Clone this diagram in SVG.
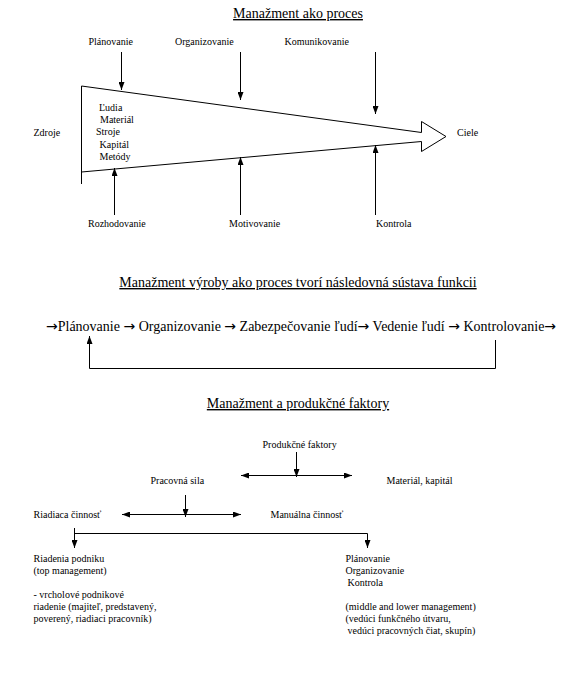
<svg xmlns="http://www.w3.org/2000/svg" width="569" height="695" viewBox="0 0 569 695" font-family="'Liberation Serif', 'DejaVu Serif', serif">
<style>
text{font-family:'Liberation Serif','DejaVu Serif',serif;fill:#000}
.s{font-size:10px}
.t{font-size:14px}
.u{text-decoration:underline}
.a{font-family:'DejaVu Sans',sans-serif}
.ln{stroke:#000;stroke-width:1;fill:none}
.ar{stroke:#000;stroke-width:1;fill:none;marker-end:url(#ah)}
.da{stroke:#000;stroke-width:1;fill:none;marker-start:url(#ah);marker-end:url(#ah)}
</style>
<defs>
<marker id="ah" viewBox="0 0 8 6" refX="8" refY="3" markerWidth="8" markerHeight="6" markerUnits="userSpaceOnUse" orient="auto-start-reverse">
<path d="M0,0 L8,3 L0,6 Z" fill="#000"/>
</marker>
</defs>
<rect width="569" height="695" fill="#fff"/>

<g id="titles">
<text class="t u" x="298" y="18" text-anchor="middle">Manažment ako proces</text>
<text class="t u" x="298" y="287" text-anchor="middle">Manažment výroby ako proces tvorí následovná sústava funkcii</text>
<text class="t u" x="298" y="408" text-anchor="middle">Manažment a produkčné faktory</text>
</g>

<g id="process-wedge">
<path class="ln" d="M81.5,86 L421.5,132.5 M81.5,172 L421.5,141.5 M81.5,86 L81.5,184"/>
<path class="ln" d="M421.5,132.5 L421.5,121.5 L446,136.5 L421.5,151.5 L421.5,141.5"/>
<text class="s" x="99" y="110.7">Ľudia</text>
<text class="s" x="100" y="123">Materiál</text>
<text class="s" x="96" y="135.3">Stroje</text>
<text class="s" x="99.5" y="147.6">Kapitál</text>
<text class="s" x="99.5" y="159.9">Metódy</text>
</g>
<g id="zdroje"><text class="s" x="33.5" y="136">Zdroje</text></g>
<g id="ciele"><text class="s" x="457" y="136">Ciele</text></g>
<g id="planovanie"><text class="s" x="88.5" y="45">Plánovanie</text></g>
<g id="organizovanie"><text class="s" x="175" y="45">Organizovanie</text></g>
<g id="komunikovanie"><text class="s" x="284.5" y="45">Komunikovanie</text></g>
<g id="rozhodovanie"><text class="s" x="88" y="227">Rozhodovanie</text></g>
<g id="motivovanie"><text class="s" x="229" y="227">Motivovanie</text></g>
<g id="kontrola"><text class="s" x="376" y="227">Kontrola</text></g>

<g id="chain">
<text class="t" x="46" y="331"><tspan class="a">→</tspan>Plánovanie <tspan class="a">→</tspan> Organizovanie <tspan class="a">→</tspan> Zabezpečovanie ľudí<tspan class="a">→</tspan> Vedenie ľudí <tspan class="a">→</tspan> Kontrolovanie<tspan class="a">→</tspan></text>
</g>

<g id="produkcne-faktory"><text class="s" x="262.5" y="448">Produkčné faktory</text></g>
<g id="pracovna-sila"><text class="s" x="150.5" y="484">Pracovná sila</text></g>
<g id="material-kapital"><text class="s" x="386.5" y="484">Materiál, kapitál</text></g>
<g id="riadiaca-cinnost"><text class="s" x="33.5" y="518">Riadiaca činnosť</text></g>
<g id="manualna-cinnost"><text class="s" x="270.5" y="518">Manuálna činnosť</text></g>
<g id="top-management">
<text class="s" x="33.5" y="561.5">Riadenia podniku</text>
<text class="s" x="33.5" y="573.5">(top management)</text>
<text class="s" x="33.5" y="597.5">- vrcholové podnikové</text>
<text class="s" x="33.5" y="609.5">riadenie (majiteľ, predstavený,</text>
<text class="s" x="33.5" y="621.5">poverený, riadiaci pracovník)</text>
</g>
<g id="middle-management">
<text class="s" x="345.5" y="561.5">Plánovanie</text>
<text class="s" x="345.5" y="573.5">Organizovanie</text>
<text class="s" x="347.5" y="585.5">Kontrola</text>
<text class="s" x="345.5" y="609.5">(middle and lower management)</text>
<text class="s" x="345.5" y="621.5">(vedúci funkčného útvaru,</text>
<text class="s" x="347.5" y="633.5">vedúci pracovných čiat, skupín)</text>
</g>

<g id="connectors">
<path class="ar" d="M121.5,52 L121.5,90"/>
<path class="ar" d="M240.5,52 L240.5,100"/>
<path class="ar" d="M375.5,52 L375.5,114"/>
<path class="ar" d="M114.5,215 L114.5,168"/>
<path class="ar" d="M240.5,215 L240.5,157"/>
<path class="ar" d="M375.5,215 L375.5,145"/>
<path class="ar" d="M495.5,340 L495.5,368.5 L89.5,368.5 L89.5,336"/>
<path class="ar" d="M296.5,452 L296.5,477"/>
<path class="da" d="M241,475.5 L352,475.5"/>
<path class="ar" d="M185.5,495 L185.5,517"/>
<path class="da" d="M122,514.5 L241,514.5"/>
<path class="ar" d="M74.5,528 L74.5,548"/>
<path class="ar" d="M74.5,533.5 L367.5,533.5 L367.5,548"/>
</g>
</svg>
